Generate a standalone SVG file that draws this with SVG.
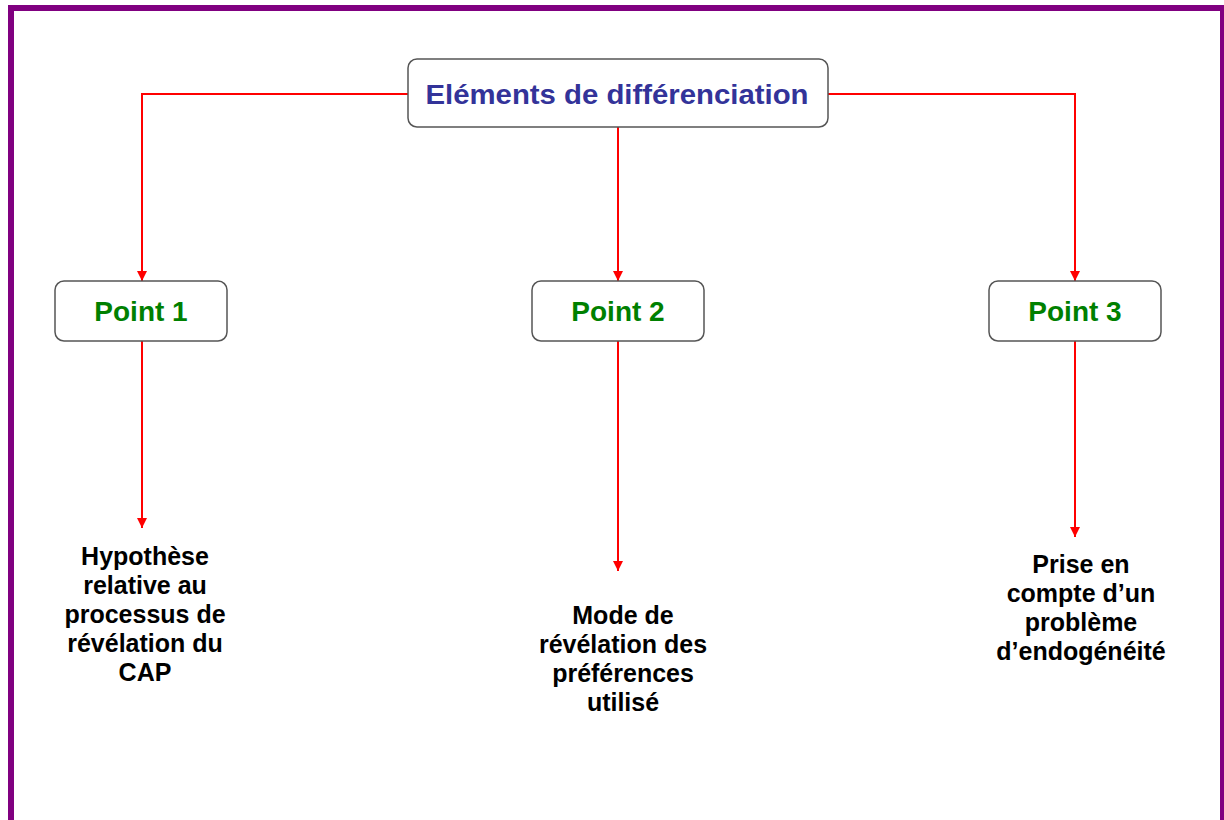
<svg xmlns="http://www.w3.org/2000/svg" width="1224" height="820" viewBox="0 0 1224 820">
<style>
.box{fill:#fff;stroke:#555;stroke-width:1.5}
.title{font-family:"Liberation Sans",Arial,sans-serif;font-weight:bold;font-size:28px;fill:#333399;text-anchor:middle}
.pt{font-family:"Liberation Sans",Arial,sans-serif;font-weight:bold;font-size:28px;fill:#008000;text-anchor:middle}
.lbl{font-family:"Liberation Sans",Arial,sans-serif;font-weight:bold;font-size:25px;fill:#000;text-anchor:middle}
.con{fill:none;stroke:#ff0000;stroke-width:2}
</style>
<defs>
<marker id="arr" markerWidth="10" markerHeight="10" refX="10" refY="5" orient="auto" markerUnits="userSpaceOnUse" viewBox="0 0 10 10">
<path d="M0,0 L10,5 L0,10 Z" fill="#ff0000"/>
</marker>
</defs>
<rect x="0" y="0" width="1224" height="820" fill="#fff"/>
<path d="M11,820 V8 H1223 V820" fill="none" stroke="#800080" stroke-width="6"/>
<g id="connectors">
<path class="con" d="M408,94 H142 V281" marker-end="url(#arr)"/>
<path class="con" d="M618,127 V281" marker-end="url(#arr)"/>
<path class="con" d="M828,94 H1075 V281" marker-end="url(#arr)"/>
<path class="con" d="M142,341 V528" marker-end="url(#arr)"/>
<path class="con" d="M618,341 V571" marker-end="url(#arr)"/>
<path class="con" d="M1075,341 V537" marker-end="url(#arr)"/>
</g>
<g id="root">
<rect class="box" x="408" y="59" width="420" height="68" rx="9"/>
<text class="title" x="617" y="104" textLength="383" lengthAdjust="spacingAndGlyphs">Eléments de différenciation</text>
</g>
<g id="point1">
<rect class="box" x="55" y="281" width="172" height="60" rx="9"/>
<text class="pt" x="141" y="321">Point 1</text>
</g>
<g id="point2">
<rect class="box" x="532" y="281" width="172" height="60" rx="9"/>
<text class="pt" x="618" y="321">Point 2</text>
</g>
<g id="point3">
<rect class="box" x="989" y="281" width="172" height="60" rx="9"/>
<text class="pt" x="1075" y="321">Point 3</text>
</g>
<g id="text1">
<text class="lbl" x="145" y="565">Hypothèse</text>
<text class="lbl" x="145" y="594">relative au</text>
<text class="lbl" x="145" y="623">processus de</text>
<text class="lbl" x="145" y="652">révélation du</text>
<text class="lbl" x="145" y="681">CAP</text>
</g>
<g id="text2">
<text class="lbl" x="623" y="624">Mode de</text>
<text class="lbl" x="623" y="653">révélation des</text>
<text class="lbl" x="623" y="682">préférences</text>
<text class="lbl" x="623" y="711">utilisé</text>
</g>
<g id="text3">
<text class="lbl" x="1081" y="573">Prise en</text>
<text class="lbl" x="1081" y="602">compte d’un</text>
<text class="lbl" x="1081" y="631">problème</text>
<text class="lbl" x="1081" y="660">d’endogénéité</text>
</g>
</svg>
